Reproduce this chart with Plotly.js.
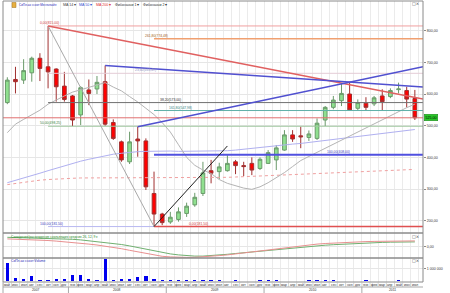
<!DOCTYPE html>
<html><head><meta charset="utf-8">
<script src="https://cdn.plot.ly/plotly-3.0.1.min.js"></script>
<style>html,body{margin:0;padding:0;background:#fff;}#chart{width:450px;height:293px;}</style>
</head><body><div id="chart"></div>
<script>
// ---- data ----
const monthLabels = ['май','июн','июл','авг','сен','окт','ноя','дек',
 'янв','фев','мар','апр','май','июн','июл','авг','сен','окт','ноя','дек',
 'янв','фев','мар','апр','май','июн','июл','авг','сен','окт','ноя','дек',
 'янв','фев','мар','апр','май','июн','июл','авг','сен','окт','ноя','дек',
 'янв','фев','мар','апр','май','июн','июл'];
const yearLabels = ['2007','2008','2009','2010','2011'];
const yearFirstIdx = [0,8,20,32,44];
const openP  = [573,646,644,667,713,686,679,625,594,534,613,616,639,510,449,386,458,452,286,221,196,204,223,250,286,358,355,358,386,374,381,365,381,392,423,471,468,463,460,518,558,579,600,555,571,569,594,592,614,611,586];
const highP  = [653,686,710,718,729,815,681,670,597,625,646,657,690,520,453,481,497,460,355,225,228,242,257,288,386,392,383,407,392,386,400,400,423,439,486,486,497,485,523,562,594,634,636,583,590,594,615,618,636,623,613];
const lowP   = [568,602,632,639,641,618,576,576,499,502,565,600,500,455,386,379,402,297,181.5,186,190,197,212,244,278,318,331,355,347,341,344,360,379,360,421,449,429,452,455,499,552,562,547,547,547,562,547,587,602,558,518];
const closeP = [644,639,674,713,681,670,623,583,518,620,602,637,505,460,392,449,452,307,221,194,211,228,246,274,351,350,370,381,374,371,360,394,415,430,471,458,465,474,508,558,581,602,550,573,558,588,576,611,616,584,525];
const ma14  = [478,505,520,535,549,568,582,594,606,613,620,628,636,622,610,592,575,555,535,510,480,440,400,375,360,349,330,318,310,303,299,307,320,336,352,371,390,403,416,429,442,455,468,480,493,506,519,532,545,557,568];
const ma50  = [320,327,334,342,350,358,366,374,381,388,394,400,405,410,413,416,418,419,420,420,420,419,419,419,419,419,420,421,423,426,428,431,434,437,439,442,444,447,450,453,456,459,463,466,469,472,475,479,482,485,488];
const ma200 = [314,318,322,325,328,330,332,333,334,335,335,335,335,335,335,335,335,336,336,336,336,336,336,336,336,336,336,337,338,339,340,341,343,344,345,346,347,348,350,351,352,353,354,355,356,357,358,359,360,361,362];
const macdLine   = [78,76,73,70,66,62,56,50,42,34,26,17,6,-6,-20,-36,-52,-68,-84,-96,-102,-106,-107,-106,-102,-96,-89,-82,-72,-62,-52,-41,-30,-19,-8,2,11,19,26,32,37,41,45,48,51,53,55,57,58,58,58];
const signalLine = [94,92,90,88,86,84,81,78,74,68,60,52,44,34,22,8,-8,-25,-42,-58,-72,-82,-90,-94,-94,-90,-84,-76,-68,-60,-52,-44,-36,-27,-19,-11,-4,3,9,15,20,25,30,34,37,40,43,45,47,48,48];
const volume = [1400000,190000,140000,380000,60000,90000,110000,110000,460000,430000,110000,30000,1730000,20000,110000,110000,270000,350000,110000,60000,20000,20000,20000,60000,20000,20000,20000,10000,50000,10000,10000,50000,50000,50000,10000,10000,10000,50000,50000,50000,50000,10000,10000,10000,50000,10000,10000,10000,50000,10000,10000];
const priceTicks = [200,300,400,500,600,700,800];
const lastPrice = 525;
// Fibonacci tools: anchor indices and prices
const fib1Idx = [5,18];  const fib1Price = [815,181.5]; const fib1Levels = [0,23.6,38.2,50,100];
const fib2Idx = [18,27]; const fib2Price = [181.5,408]; const fib2Levels = [0,100,161.8,261.8];
const fib2DiagEnd = 436;
// Trend lines [idx], [price]
const redTrendX = [5,51],   redTrendY = [815,584];
const blueTrend1X = [12,51], blueTrend1Y = [690,622];
const blueTrend2X = [16,51], blueTrend2Y = [497,686];

// ---- styles / layout constants ----
const XMIN=-0.53, XMAX=51.0;
const FONT='"Liberation Sans", Arial, sans-serif';
const fib1Colors=['#f0a0a0','#e4ccd6','#707070','#a0c8a0','#b8b8f0'];
const fib1LabelColors=['#d04040','#9090c0','#303030','#408040','#4040c0'];
const fib1LabelX=[5.2,17.0,20.0,5.3,5.4];
const fib2Colors=['#e05050','#5050e0','#60b0a8','#f0a070'];
const fib2Widths=[1.5,2,1,1.5];
const fib2LabelColors=['#d04040','#4040c0','#308080','#a06020'];
const fib2LabelX=[23.4,40.6,21.3,18.3];

const idx = monthLabels.map((_,i)=>i);
const fmt = v => v.toFixed(2).replace('.',',');
const traces = [];
const annotations = [];
const shapes = [];

// MAs
traces.push({x:idx,y:ma200,type:'scatter',mode:'lines',line:{color:'#f0a0a0',width:1,dash:'dot'},yaxis:'y'});
traces.push({x:idx,y:ma50,type:'scatter',mode:'lines',line:{color:'#b0b0f0',width:1},yaxis:'y'});
traces.push({x:idx,y:ma14,type:'scatter',mode:'lines',line:{color:'#b4b4b4',width:1},yaxis:'y'});

// Fib 1 levels
fib1Levels.forEach((lv,k)=>{
  const v = fib1Price[0] - lv/100*(fib1Price[0]-fib1Price[1]);
  traces.push({x:[fib1Idx[0],XMAX],y:[v,v],type:'scatter',mode:'lines',line:{color:fib1Colors[k],width:1},yaxis:'y'});
  annotations.push({x:fib1LabelX[k],y:v,xref:'x',yref:'y',text:fmt(lv)+'('+fmt(v)+')',showarrow:false,yshift:3,
    font:{size:3.4,color:fib1LabelColors[k],family:FONT}});
});
// Fib 2 levels
fib2Levels.forEach((lv,k)=>{
  const v = fib2Price[0] + lv/100*(fib2Price[1]-fib2Price[0]);
  traces.push({x:[fib2Idx[0],XMAX],y:[v,v],type:'scatter',mode:'lines',line:{color:fib2Colors[k],width:fib2Widths[k]},yaxis:'y'});
  annotations.push({x:fib2LabelX[k],y:v,xref:'x',yref:'y',text:fmt(lv)+'('+fmt(v)+')',showarrow:false,yshift:3,
    font:{size:3.4,color:fib2LabelColors[k],family:FONT}});
});
// last price line
traces.push({x:[XMIN,XMAX],y:[lastPrice,lastPrice],type:'scatter',mode:'lines',line:{color:'#e07070',width:1},yaxis:'y'});

// Candles
traces.push({type:'candlestick',x:idx,open:openP,high:highP,low:lowP,close:closeP,yaxis:'y',
  increasing:{fillcolor:'#8fe08f',line:{color:'#6a9a6a',width:1}},
  decreasing:{fillcolor:'#ff0000',line:{color:'#a03030',width:1}},whiskerwidth:0});

// Fib diagonals and trend lines
traces.push({x:fib1Idx,y:fib1Price,type:'scatter',mode:'lines',line:{color:'#a8a8a8',width:1},yaxis:'y'});
traces.push({x:[fib2Idx[0],fib2Idx[1]],y:[fib2Price[0],fib2DiagEnd],type:'scatter',mode:'lines',line:{color:'#202020',width:1},yaxis:'y'});
traces.push({x:redTrendX,y:redTrendY,type:'scatter',mode:'lines',line:{color:'#e06060',width:1.5},yaxis:'y'});
traces.push({x:blueTrend1X,y:blueTrend1Y,type:'scatter',mode:'lines',line:{color:'#5050d0',width:1.5},yaxis:'y'});
traces.push({x:blueTrend2X,y:blueTrend2Y,type:'scatter',mode:'lines',line:{color:'#5050d0',width:1.5},yaxis:'y'});

// MACD
traces.push({x:idx,y:signalLine,type:'scatter',mode:'lines',line:{color:'#70b070',width:1},yaxis:'y2'});
traces.push({x:idx,y:macdLine,type:'scatter',mode:'lines',line:{color:'#e89090',width:1},yaxis:'y2'});
// Volume
traces.push({x:idx,y:volume,type:'bar',marker:{color:'#0000ee'},width:0.4,yaxis:'y3'});

// ---- frame ----
const H=293, T=1, B=11, PH=H-T-B;
const py = p => (H-B-p)/PH;   // pixel y -> paper
const mainBottom = py(233), macdBottom = py(258);
[[mainBottom,1],[macdBottom,mainBottom],[0,macdBottom]].forEach(d=>{
  shapes.push({type:'rect',xref:'paper',yref:'paper',x0:0,x1:1,y0:d[0],y1:d[1],line:{color:'#8a8a8a',width:1}});
});
// bottom label rows
shapes.push({type:'line',xref:'paper',yref:'paper',x0:0,x1:1,y0:py(287),y1:py(287),line:{color:'#a8a8a8',width:1}});
shapes.push({type:'line',xref:'paper',yref:'paper',x0:0,x1:0,y0:0,y1:py(293),line:{color:'#a8a8a8',width:1}});
idx.forEach(i=>{
  shapes.push({type:'line',xref:'x',yref:'paper',x0:i-0.5,x1:i-0.5,y0:0,y1:py(287),line:{color:'#b8b8b8',width:0.6}});
  annotations.push({x:i,y:py(284.5),xref:'x',yref:'paper',text:monthLabels[i],showarrow:false,
    font:{size:3.3,color:'#303030',family:FONT},yanchor:'middle'});
});
yearLabels.forEach((yl,k)=>{
  const a = Math.max(yearFirstIdx[k]-0.5, XMIN);
  const b = k+1<yearFirstIdx.length ? yearFirstIdx[k+1]-0.5 : XMAX;
  if (k>0) shapes.push({type:'line',xref:'x',yref:'paper',x0:a,x1:a,y0:py(287),y1:py(293),line:{color:'#a8a8a8',width:1}});
  annotations.push({x:(a+b)/2,y:py(290),xref:'x',yref:'paper',text:yl,showarrow:false,
    font:{size:3.3,color:'#303030',family:FONT},yanchor:'middle'});
});

// legend texts
const px = p => (p-3)/420;
shapes.push({type:'rect',xref:'paper',yref:'paper',x0:px(12),x1:px(16),y0:py(7.5),y1:py(2.5),fillcolor:'#e8b040',line:{color:'#a07020',width:0.5}});
const topItems = [
  [17,'СиПл.ао ссоот:Месячный ▾','#2a2ab8',3.0],
  [61,'MA 14 ▾','#404040',3.6],
  [77,'MA 50 ▾','#3050d0',3.6],
  [94,'MA 200 ▾','#e03030',3.6],
  [113,'Фибоначчи 1 ▾','#303030',3.6],
  [141,'Фибоначчи 2 ▾','#303030',3.6]];
topItems.forEach(t=>annotations.push({x:px(t[0]),y:py(5),xref:'paper',yref:'paper',text:t[1],showarrow:false,
  xanchor:'left',yanchor:'middle',font:{size:t[3],color:t[2],family:FONT}}));
annotations.push({x:px(9),y:py(236.5),xref:'paper',yref:'paper',text:'Схождение/расхождение скользящих средних 26, 12, 9 ▾',
  showarrow:false,xanchor:'left',yanchor:'middle',font:{size:3.3,color:'#2a8a2a',family:FONT}});
annotations.push({x:px(9),y:py(260.5),xref:'paper',yref:'paper',text:'СиПл.ао ссоот:Volume',
  showarrow:false,xanchor:'left',yanchor:'middle',font:{size:3.3,color:'#2a2ab8',family:FONT}});
[4,236.5,260.5].forEach(p=>annotations.push({x:px(421),y:py(p),xref:'paper',yref:'paper',text:'□×',showarrow:false,
  xanchor:'right',yanchor:'middle',font:{size:4,color:'#404040',family:'DejaVu Sans'}}));
// last price tag
annotations.push({x:1,y:lastPrice,xref:'paper',yref:'y',text:fmt(lastPrice),showarrow:false,xanchor:'left',xshift:1,
  bgcolor:'#28c828',bordercolor:'#1a801a',borderwidth:0.5,borderpad:1,font:{size:3.6,color:'#000',family:FONT}});

const layout = {
  width:450,height:293,margin:{l:3,r:27,t:T,b:B},
  paper_bgcolor:'#fff',plot_bgcolor:'#fff',showlegend:false,boxgap:0.35,bargap:0,
  xaxis:{range:[XMIN,XMAX],anchor:'y3',showticklabels:false,tickmode:'linear',tick0:0.5,dtick:1,
    showgrid:true,gridcolor:'#ebebeb',gridwidth:1,zeroline:false,rangeslider:{visible:false},ticks:''},
  yaxis:{domain:[mainBottom,1],range:[161.2,893.8],side:'right',anchor:'x',tickmode:'array',tickvals:priceTicks,
    ticktext:priceTicks.map(fmt),showgrid:true,gridcolor:'#e6e6e6',zeroline:false,ticks:'outside',ticklen:2,
    tickcolor:'#8a8a8a',tickfont:{size:3.6,color:'#333',family:FONT}},
  yaxis2:{domain:[macdBottom,mainBottom],range:[-113,137],side:'right',anchor:'x',tickmode:'array',tickvals:[0],
    ticktext:['0,00'],showgrid:true,gridcolor:'#e6e6e6',zeroline:false,ticks:'outside',ticklen:2,tickcolor:'#8a8a8a',
    tickfont:{size:3.6,color:'#333',family:FONT}},
  yaxis3:{domain:[0,macdBottom],range:[-105000,1830000],side:'right',anchor:'x',tickmode:'array',tickvals:[1000000],
    ticktext:['1 000 000'],showgrid:true,gridcolor:'#e6e6e6',zeroline:false,ticks:'outside',ticklen:2,tickcolor:'#8a8a8a',
    tickfont:{size:3.6,color:'#333',family:FONT}},
  shapes:shapes,annotations:annotations
};
Plotly.newPlot('chart',traces,layout,{staticPlot:true,displayModeBar:false});
</script></body></html>
